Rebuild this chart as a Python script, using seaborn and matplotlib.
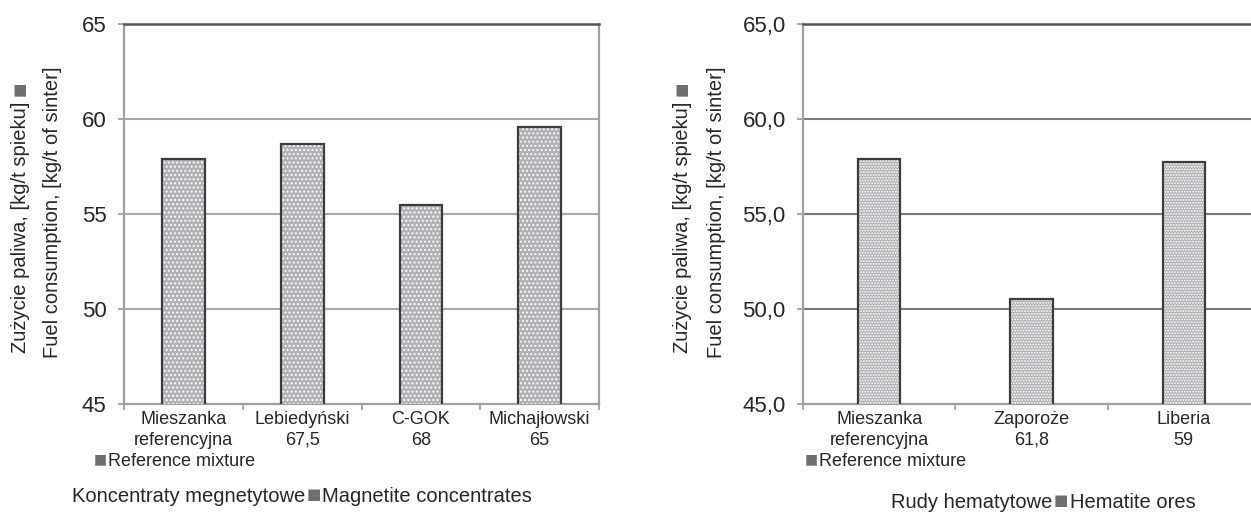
import matplotlib
matplotlib.use("Agg")
import matplotlib.pyplot as plt
from matplotlib.patches import Rectangle
import pandas as pd
import seaborn as sns

# left panel - magnetite concentrates
mag_labels = ["Mieszanka\nreferencyjna", "Lebiedyński\n67,5", "C-GOK\n68", "Michajłowski\n65"]
mag_values = [57.9, 58.7, 55.5, 59.6]
mag_yticks = [45, 50, 55, 60, 65]
mag_yticklabels = ["45", "50", "55", "60", "65"]
mag_title_pl = "Koncentraty megnetytowe"
mag_title_en = "Magnetite concentrates"

# right panel - hematite ores
hem_labels = ["Mieszanka\nreferencyjna", "Zaporoże\n61,8", "Liberia\n59"]
hem_values = [57.9, 50.55, 57.75]
hem_yticks = [45, 50, 55, 60, 65]
hem_yticklabels = ["45,0", "50,0", "55,0", "60,0", "65,0"]
hem_title_pl = "Rudy hematytowe"
hem_title_en = "Hematite ores"

ylabel_pl = "Zużycie paliwa, [kg/t spieku]"
ylabel_en = "Fuel consumption, [kg/t of sinter]"
ref_en = "Reference mixture"
SQUARE = "■"

W, H = 1251, 513
TEXT = "#262626"
SQ_COLOR = "#6e6e6e"
BAR_FILL = "#b3b3b7"
BAR_EDGE = "#3c3c3c"
FONTS = ["Liberation Sans", "DejaVu Sans"]
SQ_FONT = ["DejaVu Sans"]

sns.set_style("white")
plt.rcParams["font.family"] = FONTS
plt.rcParams["hatch.linewidth"] = 0.9


def fx(x):
    return x / W


def fy(y):
    return 1 - y / H


def draw_panel(ax, labels, values, yticks, yticklabels, bar_width, hatch, grid_color):
    df = pd.DataFrame({"cat": labels, "val": values})
    sns.barplot(data=df, x="cat", y="val", ax=ax, width=bar_width,
                color=BAR_FILL, saturation=1, zorder=3)
    # dotted fill, then a dark outline on top
    for p in list(ax.patches):
        p.set_facecolor(BAR_FILL)
        p.set_edgecolor("white")
        p.set_hatch(hatch)
        p.set_linewidth(0)
        ax.add_patch(Rectangle(p.get_xy(), p.get_width(), p.get_height(),
                               fill=False, edgecolor=BAR_EDGE, linewidth=1.6, zorder=4))

    ax.set_ylim(45, 65)
    ax.set_yticks(yticks)
    ax.set_yticklabels(yticklabels)
    ax.set_xticks([i - 0.5 for i in range(len(labels) + 1)], minor=True)
    ax.set_xlim(-0.5, len(labels) - 0.5)
    ax.set_xlabel("")
    ax.set_ylabel("")

    ax.yaxis.grid(True, color=grid_color, linewidth=1.5, zorder=1)
    ax.set_axisbelow(True)
    for side in ["left", "bottom", "right"]:
        ax.spines[side].set_color("#a0a0a0")
        ax.spines[side].set_linewidth(1.6)
    ax.spines["top"].set_color("#555555")
    ax.spines["top"].set_linewidth(1.8)

    ax.tick_params(axis="y", which="major", length=4.5, width=1.3, color="#a0a0a0",
                   pad=8, labelsize=16, labelcolor=TEXT, left=True)
    ax.tick_params(axis="x", which="major", length=0, pad=5, labelsize=13, labelcolor=TEXT)
    ax.tick_params(axis="x", which="minor", length=4.5, width=1.3, color="#a0a0a0", bottom=True)
    for lbl in ax.get_xticklabels():
        lbl.set_linespacing(1.3)


def side_labels(fig, ax, x1, x2):
    line1 = fig.text(fx(x1), fy(353), ylabel_pl, rotation=90, rotation_mode="anchor",
                     ha="left", va="center", fontsize=14.5, color=TEXT)
    fig.text(fx(x2), fy(358), ylabel_en, rotation=90, rotation_mode="anchor",
             ha="left", va="center", fontsize=14.5, color=TEXT)
    ax.annotate(SQUARE, xy=(0.5, 1.0), xycoords=line1, xytext=(-1.5, 4),
                textcoords="offset points", rotation=90, ha="center", va="bottom",
                fontsize=11, family=SQ_FONT, color=SQ_COLOR, annotation_clip=False)


def ref_label(fig, ax, x):
    t = fig.text(fx(x), fy(461), ref_en, ha="left", va="center", fontsize=13, color=TEXT)
    ax.annotate(SQUARE, xy=(0, 0.5), xycoords=t, xytext=(-1, 1.5),
                textcoords="offset points", ha="right", va="center",
                fontsize=10, family=SQ_FONT, color=SQ_COLOR, annotation_clip=False)


def bottom_label(fig, ax, x, y, pl, en):
    t = fig.text(fx(x), fy(y), pl, ha="left", va="center", fontsize=14.5, color=TEXT)
    sq = ax.annotate(SQUARE, xy=(1, 0.5), xycoords=t, xytext=(1, 1.5),
                     textcoords="offset points", ha="left", va="center",
                     fontsize=11, family=SQ_FONT, color=SQ_COLOR, annotation_clip=False)
    ax.annotate(en, xy=(1, 0.5), xycoords=sq, xytext=(1, -1.5),
                textcoords="offset points", ha="left", va="center",
                fontsize=14.5, color=TEXT, annotation_clip=False)


fig = plt.figure(figsize=(W / 100, H / 100), dpi=100)
ax1 = fig.add_axes([fx(124), fy(404), (599 - 124) / W, 380 / H])
ax2 = fig.add_axes([fx(803), fy(404), (1260 - 803) / W, 380 / H])

draw_panel(ax1, mag_labels, mag_values, mag_yticks, mag_yticklabels, 0.36, "....", "#a8a8a8")
draw_panel(ax2, hem_labels, hem_values, hem_yticks, hem_yticklabels, 0.28, "......", "#7a7a7a")

side_labels(fig, ax1, 21, 53)
side_labels(fig, ax2, 683, 717)
ref_label(fig, ax1, 108)
ref_label(fig, ax2, 819)
bottom_label(fig, ax1, 72, 497, mag_title_pl, mag_title_en)
bottom_label(fig, ax2, 891, 503, hem_title_pl, hem_title_en)

fig.savefig("out.png", dpi=100)
